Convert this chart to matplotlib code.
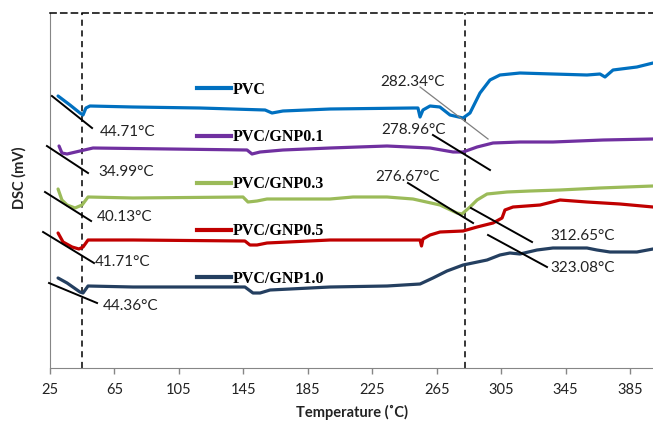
import matplotlib
matplotlib.use("Agg")
import matplotlib.pyplot as plt
from matplotlib.lines import Line2D

# ---------------- data ----------------
pvc_T = [30, 37.4, 43.6, 45.5, 47.3, 49.8, 76.5, 118, 158.5, 162.8, 169.6, 198.8, 250.3,
         253.4, 254.7, 256.5, 260.9, 267, 273.3, 281.4, 285.7, 291.9, 298.1, 304.3, 316.7,
         337.2, 358.3, 366.4, 369.5, 374.5, 389.3, 399.3]
pvc_v = [2.72, 2.63, 2.55, 2.53, 2.60, 2.62, 2.61, 2.60, 2.58, 2.55, 2.57, 2.59, 2.60,
         2.60, 2.51, 2.58, 2.62, 2.61, 2.53, 2.50, 2.55, 2.75, 2.88, 2.93, 2.95,
         2.94, 2.93, 2.94, 2.91, 2.98, 3.01, 3.05]

gnp01_T = [30.6, 32.4, 35.6, 43.6, 51.7, 147.3, 150.4, 155.4, 169.6, 198.8, 234.2, 260.9,
           275.2, 281.4, 290.1, 300, 316.7, 337.2, 368.3, 399.3]
gnp01_v = [2.22, 2.15, 2.14, 2.17, 2.20, 2.18, 2.14, 2.16, 2.18, 2.20, 2.22, 2.20,
           2.16, 2.16, 2.21, 2.25, 2.26, 2.26, 2.28, 2.29]

gnp03_T = [30, 32.4, 35.6, 40.5, 44.9, 48.6, 76.5, 144.8, 147.9, 153.5, 159.7, 198.8, 213.1,
           234.2, 250.3, 267.1, 277.6, 280.7, 285.7, 290.1, 296.3, 308.7, 323, 341.6, 366.4, 399.3]
gnp03_v = [1.79, 1.68, 1.63, 1.60, 1.63, 1.71, 1.70, 1.71, 1.66, 1.67, 1.69, 1.69, 1.71,
           1.71, 1.69, 1.63, 1.55, 1.54, 1.61, 1.68, 1.74, 1.76, 1.77, 1.78, 1.80, 1.82]

gnp05_T = [30, 33.1, 38.7, 43, 45.5, 48.6, 76.5, 146, 149.1, 153.5, 159.7, 198.8, 254.7,
           255.6, 256.5, 260.9, 267.1, 281.4, 290.1, 300, 305.6, 307.4, 312.4, 329.2, 341.6,
           358.3, 378.8, 399.3]
gnp05_v = [1.35, 1.26, 1.21, 1.19, 1.21, 1.28, 1.28, 1.27, 1.23, 1.23, 1.25, 1.28, 1.28,
           1.22, 1.29, 1.33, 1.36, 1.37, 1.41, 1.45, 1.50, 1.58, 1.61, 1.63, 1.68,
           1.66, 1.64, 1.61]

gnp10_T = [30, 35.6, 43.6, 45.5, 48.6, 76.5, 146, 151, 155.4, 161.6, 198.8, 234.2, 254.7,
           262.7, 271.4, 281.4, 296.3, 304.3, 310.5, 316.7, 327.3, 337.2, 358.3, 364.5,
           372.6, 389.3, 399.3]
gnp10_v = [0.90, 0.85, 0.76, 0.75, 0.82, 0.81, 0.81, 0.75, 0.75, 0.78, 0.81, 0.82, 0.84,
           0.90, 0.97, 1.03, 1.08, 1.13, 1.15, 1.14, 1.18, 1.20, 1.20, 1.18,
           1.16, 1.16, 1.19]

series_labels = ["PVC", "PVC/GNP0.1", "PVC/GNP0.3", "PVC/GNP0.5", "PVC/GNP1.0"]
series_colors = ["#0070C0", "#7030A0", "#9BBB59", "#C00000", "#243F60"]

x_ticks = [25, 65, 105, 145, 185, 225, 265, 305, 345, 385]
vlines_T = [44.71, 282.34]

# annotation: label, text position (T, v), tangent line start/end (T, v), line colour
annotations = [
    ("44.71°C", (56.0, 2.36), (26.2, 2.72), (51.1, 2.40), "black"),
    ("34.99°C", (54.8, 1.96), (23.1, 2.22), (48.6, 1.95), "black"),
    ("40.13°C", (54.2, 1.51), (21.9, 1.76), (50.5, 1.47), "black"),
    ("41.71°C", (53.0, 1.06), (20.7, 1.36), (52.3, 1.05), "black"),
    ("44.36°C", (57.9, 0.62), (24.4, 0.85), (54.2, 0.65), "black"),
    ("282.34°C", (229.8, 2.86), (254.7, 2.81), (296.9, 2.29), "#7F7F7F"),
    ("278.96°C", (230.4, 2.38), (262.7, 2.33), (298.1, 1.98), "black"),
    ("276.67°C", (226.8, 1.91), (247.2, 1.85), (287.6, 1.45), "black"),
    ("312.65°C", (335.4, 1.32), (286.3, 1.60), (324.2, 1.26), "black"),
    ("323.08°C", (335.4, 1.00), (296.9, 1.33), (333.5, 1.01), "black"),
]

# ---------------- figure ----------------
fig = plt.figure(figsize=(6.53, 4.22), dpi=100)
ax = fig.add_axes([50 / 653, 1 - 368 / 422, 603 / 653, 355 / 422])

all_T = [pvc_T, gnp01_T, gnp03_T, gnp05_T, gnp10_T]
all_v = [pvc_v, gnp01_v, gnp03_v, gnp05_v, gnp10_v]
for T, v, c in zip(all_T, all_v, series_colors):
    ax.plot(T, v, color=c, lw=2.3, solid_joinstyle="round", solid_capstyle="round", zorder=3)

for xv in vlines_T:
    ax.axvline(xv, color="black", lw=1.1, ls=(0, (4, 3)), zorder=2)

ann_font = "Lato"
for lab, tp, p0, p1, lc in annotations:
    lw = 0.9 if lc != "black" else 1.4
    ax.plot([p0[0], p1[0]], [p0[1], p1[1]], color=lc, lw=lw, clip_on=False, zorder=4)
    ax.text(tp[0], tp[1], lab, fontsize=11, family=ann_font, color="#222222",
            ha="left", va="center", zorder=5)

ax.set_xlim(25, 399.3)
ax.set_ylim(0, 3.55)
ax.set_xticks(x_ticks)
ax.set_yticks([])
ax.tick_params(axis="x", length=4, width=1, color="#868686", pad=7,
               labelsize=10.5, labelcolor="#222222")
for lbl in ax.get_xticklabels():
    lbl.set_family(ann_font)

ax.spines["right"].set_visible(False)
ax.spines["left"].set_color("#868686")
ax.spines["bottom"].set_color("#868686")
ax.spines["top"].set_linestyle((0, (4, 3)))
ax.spines["top"].set_color("black")
ax.spines["top"].set_linewidth(1.1)

ax.set_xlabel("Temperature (˚C)", fontsize=10.5, fontweight="bold", family=ann_font,
              color="#222222", va="center")
ax.xaxis.set_label_coords(0.5, -(412 - 368) / 355, transform=ax.transAxes)
ax.set_ylabel("DSC (mV)", fontsize=10.5, fontweight="bold", family=ann_font,
              color="#222222", va="center")
ax.yaxis.set_label_coords(-31 / 603, (368 - 178) / 355, transform=ax.transAxes)

handles = [Line2D([], [], color=c, lw=3.0) for c in series_colors]
leg = ax.legend(handles, series_labels, loc="upper left",
                bbox_to_anchor=(197 / 653, 1 - 82 / 422), bbox_transform=fig.transFigure,
                frameon=False, borderpad=0, borderaxespad=0, handlelength=2.1,
                handletextpad=0.15, labelspacing=1.95,
                prop={"family": "Liberation Serif", "weight": "bold", "size": 11.5})

fig.savefig("out.png", dpi=100)
